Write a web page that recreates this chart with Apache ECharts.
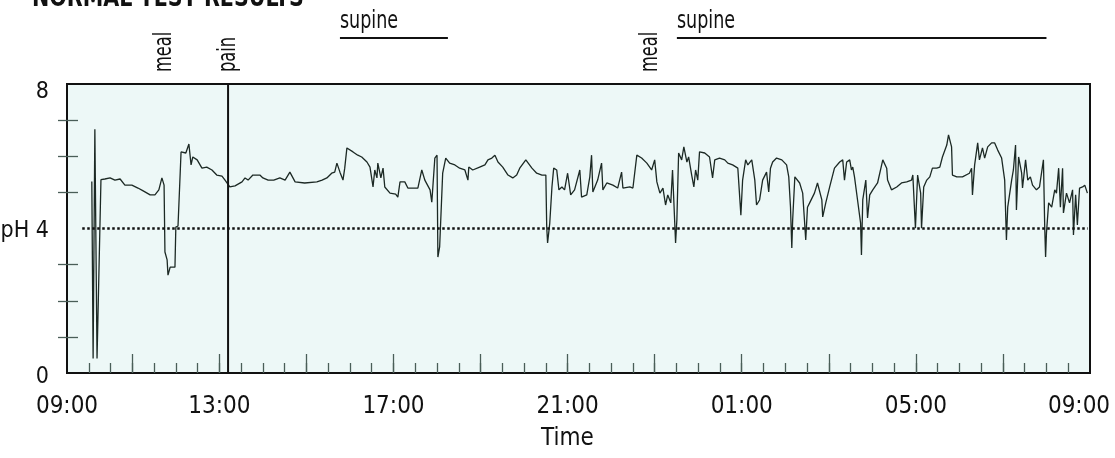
<!DOCTYPE html>
<html>
<head>
<meta charset="utf-8">
<script src="https://cdn.jsdelivr.net/npm/echarts@6/dist/echarts.min.js"></script>
<style>
html,body{margin:0;padding:0;background:#fff;}
#chart{width:1115px;height:458px;}
</style>
</head>
<body>
<div id="chart"></div>
<script>
// ---- data (time in hours from midnight of day 1; pH) ----
const times = [10.07,10.10,10.14,10.19,10.28,10.37,10.49,10.60,10.72,10.83,10.99,11.13,11.25,11.41,11.52,11.61,11.68,11.73,11.75,11.80,
11.82,11.87,11.98,12.00,12.05,12.12,12.23,12.30,12.35,12.39,12.49,12.60,12.71,12.83,12.94,13.06,13.13,13.24,13.36,13.52,
13.59,13.66,13.77,13.93,14.00,14.12,14.25,14.39,14.51,14.62,14.74,14.96,15.24,15.36,15.47,15.58,15.65,15.70,15.77,15.84,
15.88,15.93,16.07,16.18,16.27,16.39,16.46,16.53,16.57,16.62,16.64,16.71,16.76,16.80,16.92,17.05,17.10,17.15,17.26,17.33,
17.44,17.56,17.65,17.72,17.84,17.88,17.95,18.00,18.02,18.06,18.13,18.20,18.29,18.41,18.52,18.64,18.71,18.73,18.82,18.98,
19.10,19.17,19.26,19.33,19.40,19.51,19.63,19.74,19.83,19.90,20.04,20.18,20.29,20.41,20.50,20.52,20.54,20.59,20.64,20.68,
20.75,20.80,20.87,20.93,21.00,21.07,21.16,21.28,21.32,21.44,21.51,21.55,21.58,21.69,21.78,21.81,21.90,22.04,22.15,22.24,
22.27,22.43,22.50,22.59,22.70,22.82,22.93,23.00,23.05,23.12,23.19,23.25,23.30,23.37,23.41,23.48,23.51,23.55,23.62,23.67,
23.74,23.78,23.85,23.90,23.94,23.99,24.03,24.15,24.26,24.33,24.38,24.49,24.61,24.68,24.79,24.91,24.98,25.02,25.09,25.14,
25.23,25.30,25.34,25.41,25.48,25.57,25.62,25.66,25.71,25.80,25.92,26.03,26.08,26.12,26.15,26.17,26.22,26.33,26.40,26.44,
26.47,26.51,26.56,26.67,26.74,26.84,26.86,26.93,27.02,27.13,27.25,27.32,27.36,27.41,27.48,27.52,27.55,27.59,27.66,27.73,
27.75,27.78,27.85,27.89,27.94,28.01,28.12,28.24,28.33,28.35,28.44,28.56,28.67,28.79,28.90,28.93,28.99,29.04,29.11,29.13,
29.18,29.25,29.32,29.38,29.48,29.55,29.61,29.71,29.75,29.82,29.84,29.94,30.07,30.23,30.28,30.30,30.35,30.42,30.46,30.53,
30.58,30.65,30.74,30.81,30.88,30.97,31.04,31.08,31.11,31.20,31.24,31.29,31.31,31.36,31.43,31.45,31.52,31.57,31.63,31.68,
31.77,31.84,31.93,31.96,31.98,32.00,32.05,32.12,32.19,32.23,32.28,32.32,32.37,32.39,32.46,32.53,32.60,32.62,32.67,32.71,
32.76,32.83,32.88,32.92,32.94];
const phValues = [5.30,0.40,6.75,0.40,5.35,5.37,5.40,5.34,5.37,5.20,5.20,5.12,5.04,4.93,4.93,5.07,5.40,5.20,3.35,3.13,
2.71,2.93,2.93,4.04,4.07,6.12,6.09,6.34,5.76,5.98,5.90,5.67,5.70,5.62,5.48,5.45,5.34,5.15,5.18,5.29,
5.40,5.34,5.48,5.48,5.40,5.34,5.34,5.40,5.34,5.56,5.29,5.26,5.29,5.34,5.40,5.53,5.56,5.81,5.56,5.34,
5.67,6.23,6.12,6.03,5.98,5.84,5.70,5.15,5.62,5.40,5.81,5.40,5.67,5.15,4.98,4.95,4.87,5.29,5.29,5.12,
5.12,5.12,5.62,5.34,5.07,4.73,5.95,6.03,3.21,3.49,5.53,5.95,5.81,5.76,5.67,5.62,5.34,5.70,5.62,5.70,
5.76,5.90,5.95,6.03,5.84,5.70,5.48,5.40,5.48,5.67,5.90,5.67,5.53,5.48,5.48,4.04,3.60,4.15,5.15,5.67,
5.62,5.07,5.15,5.07,5.53,4.93,5.07,5.62,4.87,4.93,5.43,6.03,5.01,5.34,5.81,5.07,5.26,5.20,5.12,5.56,
5.12,5.15,5.12,6.03,5.95,5.81,5.62,5.90,5.29,4.98,5.12,4.65,4.93,4.71,5.62,3.60,4.24,6.09,5.90,6.26,
5.84,5.98,5.48,5.15,5.62,5.34,6.12,6.09,5.98,5.40,5.90,5.95,5.90,5.81,5.76,5.67,4.37,5.34,5.90,5.76,
5.90,5.34,4.65,4.79,5.34,5.56,5.01,5.67,5.84,5.95,5.90,5.76,5.43,4.59,3.46,4.24,5.43,5.26,4.98,4.24,
3.68,4.59,4.71,4.98,5.26,4.79,4.32,4.71,5.15,5.67,5.84,5.90,5.34,5.84,5.90,5.62,5.70,5.43,4.79,4.15,
3.27,4.79,5.34,4.29,4.93,5.07,5.26,5.90,5.67,5.34,5.07,5.15,5.26,5.29,5.34,5.48,4.01,5.48,4.98,4.01,
5.15,5.34,5.43,5.67,5.67,5.70,5.98,6.31,6.59,6.26,5.48,5.43,5.43,5.53,5.67,4.93,5.76,6.37,5.90,6.23,
5.95,6.26,6.37,6.37,6.17,5.95,5.34,3.68,4.59,5.34,5.62,6.31,4.51,5.98,5.53,5.12,5.90,5.34,5.43,5.20,
5.07,5.15,5.90,4.04,3.21,3.88,4.71,4.59,5.07,4.98,5.67,4.59,5.67,4.43,4.98,4.71,5.07,3.82,4.93,4.10,
5.12,5.15,5.20,5.20,4.98];

// ---- events ----
const mealTimes = [11.75, 22.91];
const painTimes = [13.2];
const supineStarts = [15.77, 23.51];
const supineEnds = [18.25, 32.0];
const thresholdPH = 4;
const thresholdStart = 9.85;
const thresholdEnd = 32.95;

// ---- axes ----
const xMin = 9.5, xMax = 33;
const xTickLabelValues = [9.5, 13, 17, 21, 25, 29, 33];
const xTickLabels = ['09:00', '13:00', '17:00', '21:00', '01:00', '05:00', '09:00'];
const majorTickValues = [11, 13, 15, 17, 19, 21, 23, 25, 27, 29, 31];
const minorTickValues = [];
for (let v = 10; v < 33; v += 0.5) minorTickValues.push(v);
const yLabelValues = [0, 4, 8];
const yLabels = ['0', 'pH 4', '8'];
const yTickValues = [1, 2, 3, 5, 6, 7];

const FONT = "'DejaVu Sans Condensed','DejaVu Sans',sans-serif";
const INK = '#111';
const TICK = '#4a5e58';

const chart = echarts.init(document.getElementById('chart'));
const series = [];
const lineData = times.map((t, i) => [t, phValues[i]]);

series.push({
  type: 'line',
  data: lineData,
  showSymbol: false,
  symbol: 'none',
  sampling: 'none',
  lineStyle: { color: '#1c2924', width: 1.3 },
  z: 3,
  markLine: {
    silent: true,
    symbol: 'none',
    label: { show: false },
    lineStyle: { color: INK, width: 2.5, type: [2.5, 2.5] },
    data: [[{ coord: [thresholdStart, thresholdPH] }, { coord: [thresholdEnd, thresholdPH] }]]
  }
});

function rotText(text, x, y) {
  return {
    type: 'text', x: x, y: y, rotation: Math.PI / 2, scaleX: 0.72,
    style: { text: text, fill: INK, fontSize: 25, fontFamily: FONT, align: 'left', verticalAlign: 'middle' }
  };
}

series.push({
  type: 'custom', clip: false, z: 5,
  data: mealTimes.map(t => [t, 8]),
  renderItem: function (params, api) {
    const p = api.coord([api.value(0), 8]);
    return rotText('meal', p[0], p[1] - 12);
  }
});

series.push({
  type: 'custom', clip: false, z: 5,
  data: painTimes.map(t => [t, 8]),
  renderItem: function (params, api) {
    const top = api.coord([api.value(0), 8]);
    const bot = api.coord([api.value(0), 0]);
    return {
      type: 'group',
      children: [
        { type: 'line', shape: { x1: top[0], y1: top[1], x2: bot[0], y2: bot[1] }, style: { stroke: INK, lineWidth: 2 } },
        rotText('pain', top[0], top[1] - 12)
      ]
    };
  }
});

series.push({
  type: 'custom', clip: false, z: 5,
  data: supineStarts.map((s, i) => [s, 8, supineEnds[i]]),
  encode: { x: 0, y: 1 },
  renderItem: function (params, api) {
    const a = api.coord([api.value(0), 8]);
    const b = api.coord([api.value(2), 8]);
    const ly = a[1] - 46;
    return {
      type: 'group',
      children: [
        { type: 'line', shape: { x1: a[0], y1: ly, x2: b[0], y2: ly }, style: { stroke: INK, lineWidth: 2 } },
        { type: 'text', x: a[0], y: ly - 4, scaleX: 0.78, style: { text: 'supine', fill: INK, fontSize: 25, fontFamily: FONT, align: 'left', verticalAlign: 'bottom' } }
      ]
    };
  }
});

const option = {
  animation: false,
  backgroundColor: '#ffffff',
  graphic: [{
    type: 'text', x: 32, y: 12, scaleX: 0.85,
    style: { text: 'NORMAL TEST RESULTS', fill: INK, fontSize: 27, fontWeight: 'bold', fontFamily: FONT, verticalAlign: 'bottom', align: 'left' }
  }],
  grid: {
    left: 67, right: 25, top: 84, bottom: 85,
    containLabel: false, outerBoundsMode: 'none',
    show: true, backgroundColor: '#edf8f7', borderColor: INK, borderWidth: 2
  },
  xAxis: [{
    type: 'value', min: xMin, max: xMax, position: 'bottom',
    axisLine: { show: true, lineStyle: { color: INK, width: 2 } },
    axisTick: { show: true, inside: true, length: 10, customValues: minorTickValues, lineStyle: { color: TICK, width: 1.3 } },
    axisLabel: {
      customValues: xTickLabelValues,
      formatter: v => {
        const i = xTickLabelValues.indexOf(v);
        if (i < 0) return '';
        return i === xTickLabels.length - 1 ? '{last|' + xTickLabels[i] + '}' : xTickLabels[i];
      },
      rich: { last: { padding: [0, 22, 0, 0] } },
      color: INK, fontSize: 24, fontFamily: FONT, margin: 22
    },
    splitLine: { show: false },
    name: 'Time', nameLocation: 'middle', nameGap: 54,
    nameTextStyle: { color: INK, fontSize: 24, fontFamily: FONT, padding: [0, 22, 0, 0] }
  }, {
    type: 'value', min: xMin, max: xMax, position: 'bottom',
    axisLine: { show: false },
    axisTick: { show: true, inside: true, length: 19, customValues: majorTickValues, lineStyle: { color: TICK, width: 1.3 } },
    axisLabel: { show: false },
    splitLine: { show: false }
  }],
  yAxis: [{
    type: 'value', min: 0, max: 8, position: 'left',
    axisLine: { show: true, lineStyle: { color: INK, width: 2 } },
    axisTick: { show: true, inside: false, length: 9, customValues: yTickValues, lineStyle: { color: TICK, width: 1.3 } },
    axisLabel: {
      customValues: yLabelValues,
      formatter: v => {
        const i = yLabelValues.indexOf(v);
        if (i < 0) return '';
        return '{l' + i + '|' + yLabels[i] + '}';
      },
      rich: {
        l0: { padding: [8, 0, 0, 0] },
        l1: { padding: [6, 0, 0, 0] },
        l2: { padding: [16, 0, 0, 0] }
      },
      color: INK, fontSize: 23, fontFamily: FONT, margin: 18
    },
    splitLine: { show: false }
  }, {
    type: 'value', min: 0, max: 8, position: 'left',
    axisLine: { show: false },
    axisTick: { show: true, inside: true, length: 11, customValues: yTickValues, lineStyle: { color: TICK, width: 1.3 } },
    axisLabel: { show: false },
    splitLine: { show: false }
  }],
  series: series
};
chart.setOption(option);
</script>
</body>
</html>
